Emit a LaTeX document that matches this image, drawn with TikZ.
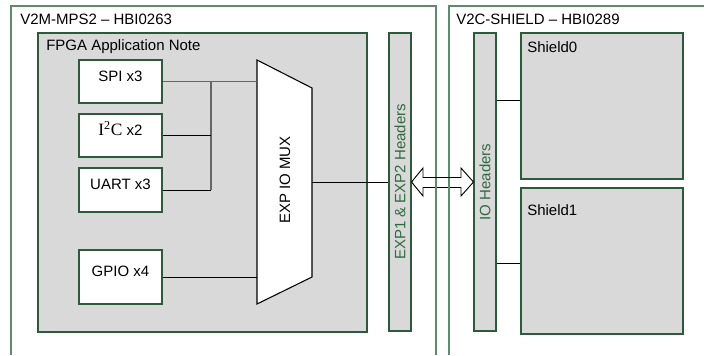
\documentclass[tikz,border=0pt]{standalone}
\usepackage{fontspec}
\setmainfont{Liberation Sans}
\newfontfamily\serifff{Liberation Serif}
\usetikzlibrary{fit}
\definecolor{outerline}{HTML}{5E8A6E}
\definecolor{boxline}{HTML}{2E5A3C}
\definecolor{boxfill}{HTML}{D9D9D9}
\definecolor{hdrtext}{HTML}{2F6A3F}
\definecolor{busgray}{HTML}{666666}
\tikzset{
  box/.style={draw=boxline, line width=0.8pt, inner sep=0pt},
  whitebox/.style={box, fill=white},
  greybox/.style={box, fill=boxfill},
  outer/.style={draw=outerline, line width=0.8pt},
  wire/.style={draw=black, line width=0.7pt},
  graywire/.style={draw=busgray, line width=1pt},
  lbl/.style={anchor=west, inner sep=0pt, font=\fontsize{11.25}{13}\selectfont},
  txt/.style={font=\fontsize{11.25}{13}\selectfont},
}
\begin{document}
\begin{tikzpicture}[x=0.75pt, y=-0.75pt]
\useasboundingbox (0,0) rectangle (704,355);
% outer boards
\draw[outer] (11,355) -- (11,6) -- (436,6) -- (436,355);
\draw[outer] (449,355) -- (449,6) -- (704,6);
\node[lbl] (board1) at (20,19) {V2M-MPS2 – HBI0263};
\node[lbl] (board2) at (456,19) {V2C-SHIELD – HBI0289};
% FPGA area
\node[greybox, fit={(38,33) (367,332)}] (fpga) {};
\node[lbl] (fpgalbl) at (46,47) {FPGA Application Note};
% peripheral boxes
\node[whitebox, fit={(79,60) (162,103)}, txt] (spi) {SPI x3};
\node[whitebox, fit={(79,114) (162,157)}, txt] (i2c) {{\serifff\fontsize{13}{15}\selectfont I\textsuperscript{2}C} x2};
\node[whitebox, fit={(79,168) (162,212)}, txt] (uart) {UART x3};
\node[whitebox, fit={(79,250) (162,304)}, txt] (gpio) {GPIO x4};
% mux
\coordinate (muxTL) at (257,60);
\coordinate (muxTR) at (312,88);
\coordinate (muxBR) at (312,277);
\coordinate (muxBL) at (257,304);
\draw[fill=white, line width=0.8pt] (muxTL) -- (muxTR) -- (muxBR) -- (muxBL) -- cycle;
\node[txt, rotate=90] (mux) at (285,180) {EXP IO MUX};
\coordinate (muxout) at (312,182);
% headers
\node[greybox, fit={(389,33) (411,331)}] (exphdr) {};
\node[txt, rotate=90, text=hdrtext] (exphdrlbl) at (exphdr.center) {EXP1 \& EXP2 Headers};
\node[greybox, fit={(474,33) (496,331)}] (iohdr) {};
\node[txt, rotate=90, text=hdrtext] (iohdrlbl) at (iohdr.center) {IO Headers};
% shields
\node[greybox, fit={(521,33) (683,179)}] (shield0) {};
\node[lbl] (sh0lbl) at (527,47) {Shield0};
\node[greybox, fit={(521,188) (683,334)}] (shield1) {};
\node[lbl] (sh1lbl) at (527,210) {Shield1};
% bus
\coordinate (bus) at (211,82);
\draw[graywire] (spi.east) -- (spi.east -| muxTL);
\draw[graywire] (211,82) -- (211,190);
\draw[wire] (i2c.east) -- (i2c.east -| bus);
\draw[wire] (uart.east) -- (uart.east -| bus);
\draw[wire] (gpio.east) -- (gpio.east -| muxTL);
\draw[wire] (muxout) -- (muxout -| exphdr.west);
\draw[wire] (iohdr.east |- 0,100) -- (shield0.west |- 0,100);
\draw[wire] (iohdr.east |- 0,263) -- (shield1.west |- 0,263);
% double arrow
\draw[fill=white, line width=0.7pt, line join=miter]
  (exphdr.east |- 0,182) -- (423,168) -- (423,177.5) -- (461,177.5) -- (461,168)
  -- (iohdr.west |- 0,182) -- (461,196) -- (461,187.5) -- (423,187.5) -- (423,196) -- cycle;
\draw[outer] (436,177.5) -- (436,187.5);
\draw[outer] (449,177.5) -- (449,187.5);
\end{tikzpicture}
\end{document}
